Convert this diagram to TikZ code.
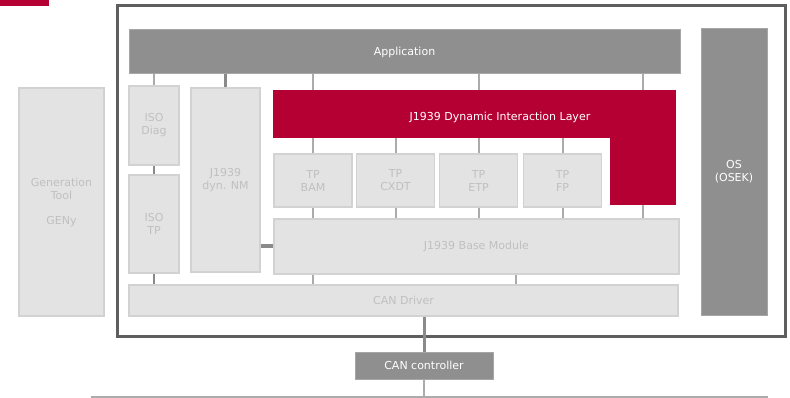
\documentclass[tikz,border=0pt]{standalone}
\usepackage{fontspec}
\setmainfont{DejaVu Sans}
\usepackage{tikz}
\usetikzlibrary{positioning,calc}
\definecolor{vecred}{HTML}{B50033}
\definecolor{darkfill}{HTML}{8F8F8F}
\definecolor{darkedge}{HTML}{A6A6A6}
\definecolor{lightfill}{HTML}{E3E3E3}
\definecolor{lightedge}{HTML}{D2D2D2}
\definecolor{lighttext}{HTML}{C0C0C0}
\definecolor{framegray}{HTML}{5E5E5E}
\definecolor{wiregray}{HTML}{ABABAB}
\definecolor{wiredark}{HTML}{8A8A8A}
\tikzset{
  modbox/.style={draw=lightedge, line width=1.2pt, fill=lightfill, text=lighttext, align=center, inner sep=0pt},
  darkmod/.style={draw=darkedge, line width=1pt, fill=darkfill, text=white, align=center, inner sep=0pt},
  dilbar/.style={fill=vecred, inner sep=0pt},
  wire/.style={wiregray, line width=2pt},
  wirestrong/.style={wiredark, line width=2.5pt},
  buswire/.style={wiregray, line width=2pt}
}

\begin{document}
\begin{tikzpicture}[x=1pt, y=-1pt, every node/.style={font=\fontsize{11}{13}\selectfont}]
      \useasboundingbox (0,0) rectangle (790,398);
      \fill[vecred] (0,0) rectangle (49,6);
      \node[modbox, minimum width=85pt, minimum height=228pt] (gentool) at (61.5,202) {Generation\\Tool\\[12pt]GENy};
      \draw[framegray, line width=3pt] (117,6) rectangle (785,336);
      \node[darkmod, minimum width=551pt, minimum height=44pt] (app) at (404.5,52) {Application};
      \node[darkmod, minimum width=66pt, minimum height=286pt] (os) at (734,172) {OS\\(OSEK)};
      \node[modbox, minimum width=50pt, minimum height=79pt] (isodiag) at (154,125.5) {ISO\\Diag};
      \node[modbox, minimum width=50pt, minimum height=98pt] (isotp) at (154,224) {ISO\\TP};
      \node[modbox, minimum width=69pt, minimum height=184pt] (dynnm) at (225.5,180) {J1939\\dyn. NM};
      \node[dilbar, minimum width=403pt, minimum height=48pt] (dil) at (474.5,114) {};
      \node[dilbar, minimum width=66pt, minimum height=115pt] (dilleg) at (643,147.5) {};
      \node[text=white] (diltext) at (500,117) {J1939 Dynamic Interaction Layer};
      \node[modbox, minimum width=78pt, minimum height=53pt] (tpbam) at (313,180.5) {TP\\BAM};
      \node[modbox, minimum width=78pt, minimum height=53pt] (tpcxdt) at (395.5,180.5) {TP\\CXDT};
      \node[modbox, minimum width=78pt, minimum height=53pt] (tpetp) at (478.5,180.5) {TP\\ETP};
      \node[modbox, minimum width=78pt, minimum height=53pt] (tpfp) at (562.5,180.5) {TP\\FP};
      \node[modbox, minimum width=405pt, minimum height=55pt] (base) at (476.5,246.5) {J1939 Base Module};
      \node[modbox, minimum width=549pt, minimum height=31pt] (candrv) at (403.5,300.5) {CAN Driver};
      \node[darkmod, minimum width=138pt, minimum height=27pt] (canctrl) at (424,365.5) {CAN controller};
      \coordinate (drvtap) at (516,0);
      \coordinate (busleft) at (91,396.5);
      \coordinate (busright) at (768,396.5);
      \draw[wire] (app.south -| isodiag) -- (isodiag.north);
      \draw[wirestrong] (app.south -| dynnm) -- (dynnm.north);
      \draw[wire] (app.south -| tpbam) -- (dil.north -| tpbam);
      \draw[wire] (app.south -| tpetp) -- (dil.north -| tpetp);
      \draw[wire] (app.south -| dilleg) -- (dilleg.north);
      \draw[wirestrong] (isodiag) -- (isotp);
      \foreach \tp in {tpbam,tpcxdt,tpetp,tpfp} {
        \draw[wire] (dil.south -| \tp) -- (\tp.north);
        \draw[wire] (\tp) -- (base.north -| \tp);
      }
      \draw[wire] (dilleg) -- (base.north -| dilleg);
      \draw[wirestrong, line width=4pt] (dynnm.east |- base) -- (base.west);
      \draw[wirestrong] (isotp) -- (candrv.north -| isotp);
      \draw[wire] (base.south -| tpbam) -- (candrv.north -| tpbam);
      \draw[wire] (base.south -| drvtap) -- (candrv.north -| drvtap);
      \draw[wirestrong, line width=3pt] (candrv.south -| canctrl) -- (canctrl.north);
      \draw[buswire] (busleft) -- (busright);
      \draw[wire] (canctrl) -- (canctrl |- busleft);
    \end{tikzpicture}
\end{document}
